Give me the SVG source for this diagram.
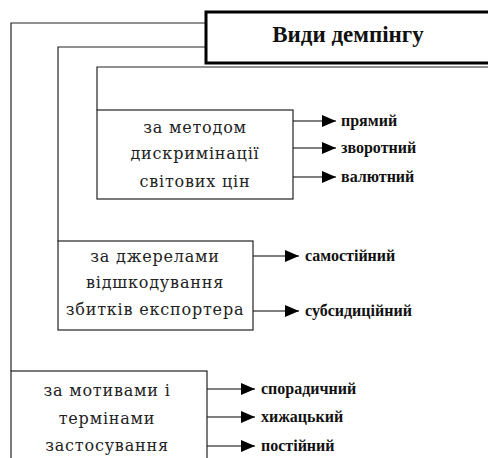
<svg xmlns="http://www.w3.org/2000/svg" width="488" height="458" viewBox="0 0 488 458">
<defs>
<marker id="ah" markerWidth="15" markerHeight="12" refX="14" refY="6" orient="auto" markerUnits="userSpaceOnUse">
<path d="M0,0 L14,6 L0,12 Z" fill="#000"/>
</marker>
<style>
.ln{fill:none;stroke:#222;stroke-width:1.2}
.bx{fill:#fff;stroke:#222;stroke-width:1.2}
.ar{fill:none;stroke:#000;stroke-width:1.2;marker-end:url(#ah)}
.bt{font-family:"DejaVu Serif","Liberation Serif",serif;font-size:16px;letter-spacing:0.8px;text-anchor:middle;fill:#222}
.lb{font-family:"Liberation Serif","Times New Roman",serif;font-size:16px;font-weight:bold;fill:#111}
.tt{font-family:"Liberation Serif","Times New Roman",serif;font-size:23px;font-weight:bold;text-anchor:middle;fill:#111}
</style>
</defs>
<rect width="488" height="458" fill="#fff"/>
<g id="connectors">
<path class="ln" d="M206,23 H11 V371"/>
<path class="ln" d="M206,47 H58 V241"/>
<path class="ln" d="M488,67 H97 V110"/>
<path class="ar" d="M293,121 H336"/>
<path class="ar" d="M293,148 H336"/>
<path class="ar" d="M293,177 H336"/>
<path class="ar" d="M253,256 H299"/>
<path class="ar" d="M253,311 H299"/>
<path class="ar" d="M207,389 H255"/>
<path class="ar" d="M207,417 H255"/>
<path class="ar" d="M207,446 H255"/>
</g>
<g id="title">
<rect x="206" y="12" width="290" height="51" fill="#fff" stroke="#000" stroke-width="3"/>
<text class="tt" x="348" y="42">Види демпінгу</text>
</g>
<g id="method">
<rect class="bx" x="97" y="110" width="196" height="89"/>
<text class="bt" x="195" y="133">за методом</text>
<text class="bt" x="195" y="159">дискримінації</text>
<text class="bt" x="195" y="187">світових цін</text>
</g>
<g id="sources">
<rect class="bx" x="58" y="241" width="195" height="89"/>
<text class="bt" x="155" y="262">за джерелами</text>
<text class="bt" x="155" y="288">відшкодування</text>
<text class="bt" x="155" y="315">збитків експортера</text>
</g>
<g id="motives">
<rect class="bx" x="11" y="371" width="196" height="100"/>
<text class="bt" x="107" y="396">за мотивами і</text>
<text class="bt" x="107" y="424">термінами</text>
<text class="bt" x="107" y="451">застосування</text>
</g>
<g id="labels">
<text class="lb" x="341" y="126">прямий</text>
<text class="lb" x="341" y="153">зворотний</text>
<text class="lb" x="341" y="182">валютний</text>
<text class="lb" x="305" y="261">самостійний</text>
<text class="lb" x="305" y="316">субсидиційний</text>
<text class="lb" x="261" y="394">спорадичний</text>
<text class="lb" x="261" y="422">хижацький</text>
<text class="lb" x="261" y="451">постійний</text>
</g>
</svg>
